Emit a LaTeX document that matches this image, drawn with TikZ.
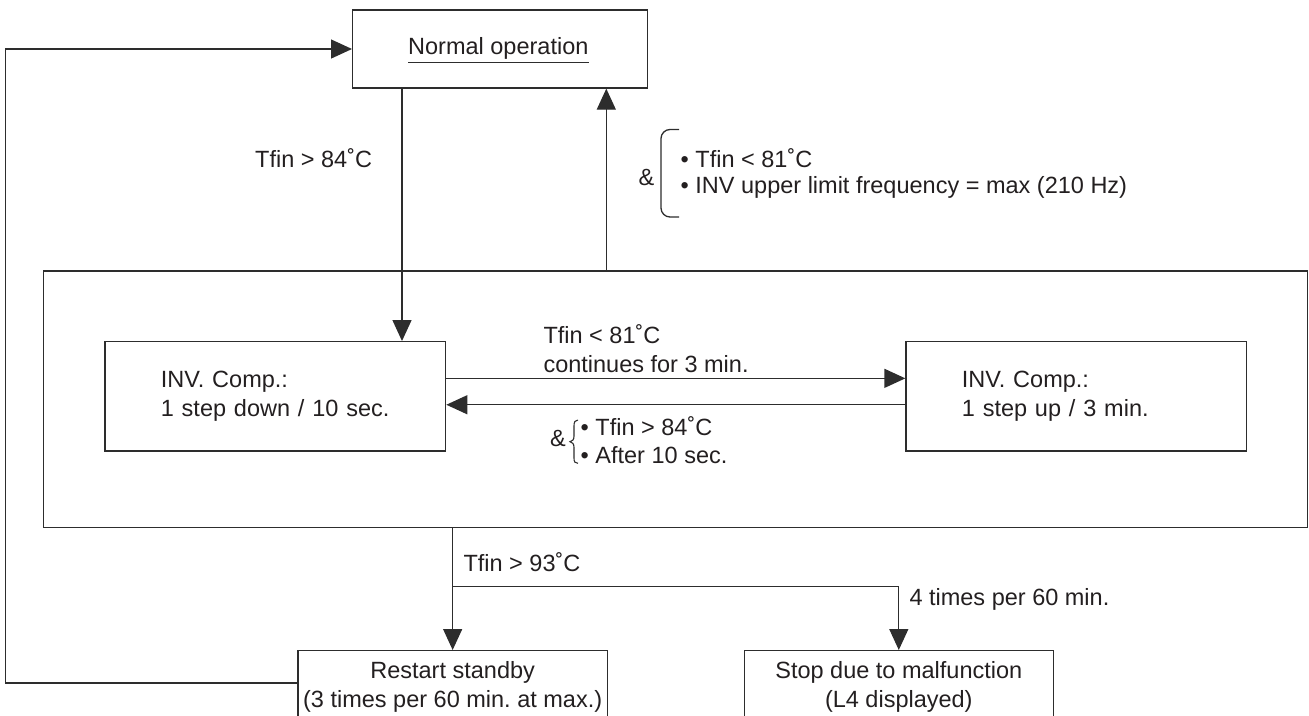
\documentclass[tikz,border=0pt]{standalone}
\usepackage{fontspec}
\setmainfont{Liberation Sans}
\usetikzlibrary{arrows.meta,calc}
\definecolor{ink}{RGB}{35,31,32}
\definecolor{linec}{RGB}{45,45,45}
\frenchspacing
\begin{document}
\begin{tikzpicture}[x=1pt,y=-1pt,
  every node/.style={font=\fontsize{23.5}{28.5}\selectfont, text=ink},
  box/.style={draw=linec, line width=1.3pt, inner sep=0pt},
  conn/.style={draw=linec, line width=1.3pt},
  arr/.style={draw=linec, line width=1.3pt, -{Triangle[length=21pt,width=19pt]}},
  lbl/.style={anchor=base west, inner sep=0pt}]
\useasboundingbox (0,0) rectangle (1309,715);
\clip (0,0) rectangle (1309,715);

% boxes
\node[box, minimum width=295pt, minimum height=78pt] (normal) at (500.15,49) {};
\node[lbl] (normaltxt) at (408,54.3) {Normal operation};
\draw[draw=linec, line width=1pt] ($(normaltxt.base west)+(0,8.4)$) -- ($(normaltxt.base east)+(0,8.4)$);

\node[box, minimum width=1264pt, minimum height=256.3pt] (big) at (675.4,399.15) {};

\node[box, minimum width=340.7pt, minimum height=109.3pt, text width=229pt, align=left] (left) at (275.35,396.35) {INV. Comp.:\\\mbox{1 step down / 10 sec.}};
\node[box, minimum width=340.7pt, minimum height=109.3pt, text width=229pt, align=left] (right) at (1076.35,396.35) {INV. Comp.:\\\mbox{1 step up / 3 min.}};

\node[box, anchor=north, minimum width=309.3pt, inner ysep=11pt, align=center] (restart) at (452.65,650) {Restart standby\\(3 times per 60 min. at max.)};
\node[box, anchor=north, minimum width=309pt, inner ysep=11pt, align=center] (stop) at (898.8,650) {Stop due to malfunction\\(L4 displayed)};

% connectors
\coordinate (lp) at ($(restart.north west)+(0,33)$);
\coordinate (loopc) at (5.3,683);
\draw[arr] (lp) -- (loopc) |- (normal.west);

\coordinate (dn) at ([xshift=50pt]normal.south west);
\draw[arr] (dn) -- (dn |- left.north);

\coordinate (up) at ([xshift=-42pt]normal.south east);
\draw[arr] (up |- big.north) -- (up);

\coordinate (ra) at ([yshift=18pt]left.east);
\draw[arr] (ra) -- (ra -| right.west);
\coordinate (la) at ([yshift=-8.4pt]right.west);
\draw[arr] (la) -- (la -| left.east);

\draw[arr] (restart.north |- big.south) -- (restart.north);
\coordinate (br) at ($(restart.north)+(0,-63.3)$);
\draw[arr] (br) -| (stop.north);

% labels
\node[lbl] (t84) at (255,167.4) {Tfin > 84˚C};

\node[lbl] (amp1) at (638.5,185) {\&};
\draw[conn, rounded corners=9pt] (679,129.5) -- (661,129.5) -- (661,217) -- (679,217);
\node[lbl] (c1) at (680.5,167.3) {• Tfin < 81˚C};
\node[lbl] (c2) at (680.5,193.5) {• INV upper limit frequency = max (210 Hz)};

\node[lbl] (t81) at (543.3,343.3) {Tfin < 81˚C};
\node[lbl] (cont) at (543.3,372.7) {continues for 3 min.};

\node[lbl] (amp2) at (550,446.5) {\&};
\draw[draw=linec, line width=1.1pt] (578,420) .. controls (575,420) and (574,422) .. (574,426) -- (574,436) .. controls (574,439.5) and (572.5,441.5) .. (570,441.7) .. controls (572.5,442) and (574,444) .. (574,447.5) -- (574,458) .. controls (574,462) and (575,463.3) .. (578,463.3);
\node[lbl] (d1) at (580.5,435) {• Tfin > 84˚C};
\node[lbl] (d2) at (580.5,463.3) {• After 10 sec.};

\node[lbl] (t93) at (463.3,571.7) {Tfin > 93˚C};
\node[lbl] (t4) at (909.3,605) {4 times per 60 min.};
\end{tikzpicture}
\end{document}
